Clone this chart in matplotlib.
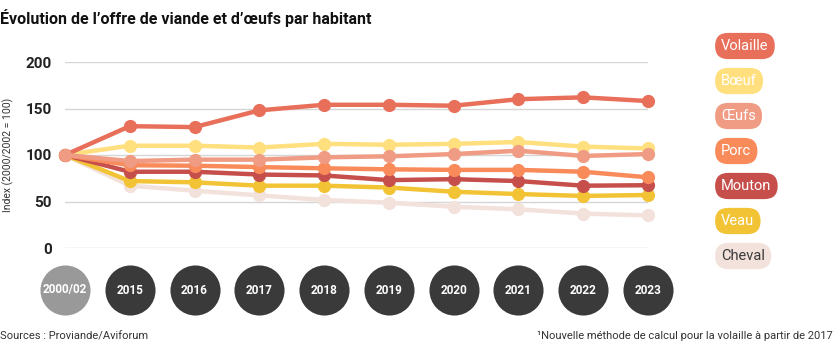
import matplotlib
matplotlib.use("Agg")
import matplotlib.pyplot as plt
from matplotlib import font_manager as fm
from matplotlib.transforms import blended_transform_factory

names = {f.name for f in fm.fontManager.ttflist}
FONT = "Liberation Sans Narrow" if "Liberation Sans Narrow" in names else "Roboto"
plt.rcParams['font.family'] = [FONT, 'DejaVu Sans']

years = ["2000/02", "2015", "2016", "2017", "2018", "2019", "2020", "2021", "2022", "2023"]
volaille = [100, 131, 130, 148, 154, 154, 153, 160, 162, 158]
boeuf = [100, 110, 110, 108, 112, 111, 112, 114, 109, 107]
oeufs = [100, 93.5, 95, 95, 97.5, 98.6, 101, 104.6, 99, 101]
porc = [100, 89, 88.5, 87, 85.7, 84.6, 84, 84, 82, 76]
mouton = [100, 82, 82, 79, 78, 73, 74, 72, 67, 67.5]
veau = [100, 72, 70.6, 67, 67, 65, 60.5, 58, 56, 57]
cheval = [100, 67, 61.6, 56.6, 51.6, 48.7, 44.4, 41.6, 37, 35]

series_names = ["Volaille", "Bœuf", "Œufs", "Porc", "Mouton", "Veau", "Cheval"]
series_vals = [volaille, boeuf, oeufs, porc, mouton, veau, cheval]
colors = ["#E86F5A", "#FFDF7E", "#F09B83", "#F98B5B", "#C64F4B", "#F2C335", "#F3E1DB"]
text_colors = ["white"] * 6 + ["#3a3a3a"]

W, H = 836, 342
fig = plt.figure(figsize=(W / 100, H / 100), dpi=100)
x0, x1, ytop, ybot = 65, 648, 62, 248
ax = fig.add_axes([x0 / W, 1 - ybot / H, (x1 - x0) / W, (ybot - ytop) / H])
ax.set_xlim(0, len(years) - 1)
ax.set_ylim(0, 200)
for s in ax.spines.values():
    s.set_visible(False)
ax.set_yticks([0, 50, 100, 150, 200])
ax.set_xticks([])
ax.grid(axis='y', color='#d6d6d6', linewidth=1)
ax.set_axisbelow(True)
ax.tick_params(axis='y', length=0, pad=9.5, labelsize=11, labelcolor='#222222')
for lab in ax.get_yticklabels():
    lab.set_fontweight('bold')
ax.set_ylabel("Index (2000/2002 = 100)", fontsize=7.5, color='#333333')
ax.yaxis.set_label_coords(-(x0 - 14) / (x1 - x0), 0.5)

xs = list(range(len(years)))
order = [6, 5, 4, 3, 1, 0, 2]
for z, i in enumerate(order):
    ax.plot(xs, series_vals[i], color=colors[i], lw=3.2, marker='o', ms=8.5,
            clip_on=False, zorder=3 + z)

# year circles
trans = blended_transform_factory(ax.transData, fig.transFigure)
yc = 1 - 290 / H
for i, y in enumerate(years):
    fc = '#999999' if i == 0 else '#3a3a3a'
    ax.scatter([i], [yc], s=1300, color=fc, transform=trans, clip_on=False, zorder=10,
               linewidths=0)
    ax.text(i, yc, y, transform=trans, ha='center', va='center', color='white',
            fontsize=8.5, fontweight='bold', zorder=11)

# legend pills
for k, name in enumerate(series_names):
    yp = 46 + k * 35
    fig.text(712 / W + 0.011, 1 - yp / H, name, ha='left', va='center', fontsize=10.5,
             color=text_colors[k],
             bbox=dict(boxstyle='round,pad=0.42,rounding_size=0.9', fc=colors[k], ec='none'))

fig.text(0 / W, 1 - 18 / H, "Évolution de l’offre de viande et d’œufs par habitant",
         ha='left', va='center', fontsize=11.5, fontweight='bold', color='#111111')
fig.text(0, 1 - 336 / H, "Sources : Proviande/Aviforum", ha='left', va='center',
         fontsize=8, color='#333333')
fig.text(833 / W, 1 - 336 / H, "¹Nouvelle méthode de calcul pour la volaille à partir de 2017",
         ha='right', va='center', fontsize=8, color='#333333')

fig.savefig("out.png", dpi=100)
